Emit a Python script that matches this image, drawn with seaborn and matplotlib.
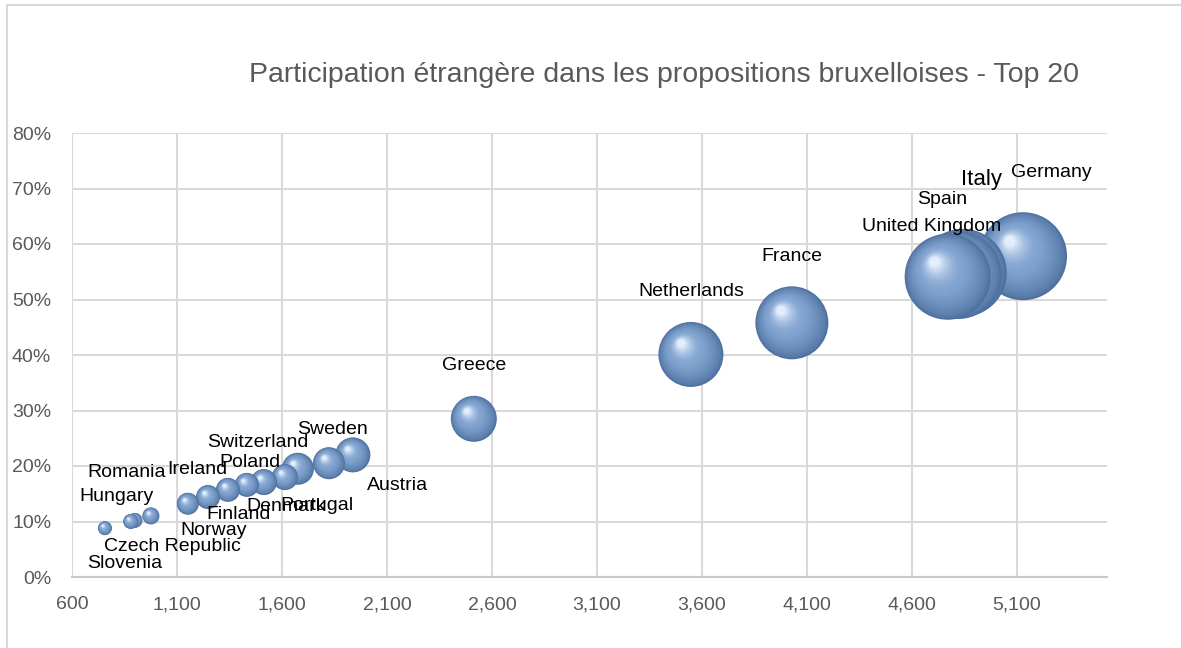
import numpy as np
import pandas as pd
import matplotlib
matplotlib.use("Agg")
import matplotlib.pyplot as plt
import matplotlib.colors as mcolors
import seaborn as sns
from matplotlib.path import Path
from matplotlib.ticker import FuncFormatter, PercentFormatter
from matplotlib.patches import Rectangle

# ---------------- data ----------------
countries = ["Germany", "Italy", "Spain", "United Kingdom", "France", "Netherlands",
             "Greece", "Sweden", "Austria", "Switzerland", "Portugal", "Poland",
             "Denmark", "Finland", "Norway", "Ireland", "Romania", "Hungary",
             "Czech Republic", "Slovenia"]
participations = [5130, 4843, 4819, 4771, 4029, 3548, 2514, 1938, 1824, 1676,
                  1614, 1514, 1433, 1343, 1248, 1152, 976, 900, 880, 757]
share = [0.578, 0.548, 0.544, 0.541, 0.458, 0.401, 0.285, 0.220, 0.205, 0.195,
         0.180, 0.171, 0.166, 0.157, 0.144, 0.132, 0.110, 0.102, 0.100, 0.088]
bubble_size = [1936, 1936, 1936, 1849, 1332, 1056, 529, 306, 256, 256,
               169, 169, 144, 144, 144, 121, 72, 56, 56, 49]

x_ticks = [600, 1100, 1600, 2100, 2600, 3100, 3600, 4100, 4600, 5100]
y_ticks = [0.0, 0.1, 0.2, 0.3, 0.4, 0.5, 0.6, 0.7, 0.8]
title = "Participation étrangère dans les propositions bruxelloises - Top 20"

# label offsets in pixels (dx right, dy down) from each bubble centre
label_offsets = {
    "Germany": (28, -84), "Italy": (19, -93), "Spain": (-16, -76),
    "United Kingdom": (-16, -50), "France": (0, -66), "Netherlands": (0, -63),
    "Greece": (0, -53), "Sweden": (-20, -25), "Austria": (69, 22),
    "Switzerland": (-40, -26), "Portugal": (32, 28), "Poland": (-14, -20),
    "Denmark": (39, 22), "Finland": (11, 25), "Norway": (6, 33),
    "Ireland": (9, -34), "Romania": (-24, -43), "Hungary": (-18, -24),
    "Czech Republic": (42, 25), "Slovenia": (20, 35),
}
label_fontsize = {"Italy": 16}

# ---------------- style ----------------
sns.set_theme(style="white")
plt.rcParams["font.family"] = ["Liberation Sans", "DejaVu Sans"]

df = pd.DataFrame({"country": countries, "x": participations,
                   "y": share, "size": bubble_size})

W, H = 1181, 648
fig = plt.figure(figsize=(W / 100, H / 100), dpi=100)
ax = fig.add_axes([72 / W, 1 - 577 / H, (1107 - 72) / W, (577 - 133) / H])
ax.set_axisbelow(True)

# chart-area border (partially visible like the reference)
fig.patches.append(Rectangle((7 / W, -0.2), 1.5, 1.2 - 5 / H, transform=fig.transFigure,
                             fill=False, edgecolor="#d9d9d9", linewidth=1.5, zorder=0))

# ---------------- spherical bubbles (layered radial gradient) ----------------
N_LAYERS = 26
edge_c = np.array(mcolors.to_rgb("#4f719f"))
body_c = np.array(mcolors.to_rgb("#7fa2cf"))
high_c = np.array(mcolors.to_rgb("#e2eefb"))


def layer_color(t):
    if t < 0.5:
        f = t / 0.5
        return tuple(edge_c + (body_c - edge_c) * f ** 0.7)
    f = (t - 0.5) / 0.5
    return tuple(body_c + (high_c - body_c) * f ** 1.8)


def layer_marker(t):
    r = 1 - 0.88 * t
    cx, cy = -0.30 * t, 0.34 * t
    anchor = Path([(-1, -1), (1, 1)], [Path.MOVETO, Path.MOVETO])
    return Path.make_compound_path(anchor, Path.circle((cx, cy), r))


layers = [(layer_marker(k / (N_LAYERS - 1)), layer_color(k / (N_LAYERS - 1)))
          for k in range(N_LAYERS)]

S_MAX = (2 * 44 * 0.72) ** 2          # marker area for the largest bubble
size_max = max(bubble_size)

for i in range(len(df)):
    row = df.iloc[[i]]
    for mk, col in layers:
        sns.scatterplot(data=row, x="x", y="y", size="size",
                        sizes=(0, S_MAX), size_norm=(0, size_max),
                        marker=mk, color=col, linewidth=0, edgecolor="none",
                        legend=False, ax=ax, zorder=3)

# ---------------- data labels ----------------
for name, xv, yv in zip(countries, participations, share):
    dx, dy = label_offsets[name]
    ax.annotate(name, (xv, yv), xytext=(dx, -dy), textcoords="offset pixels",
                ha="center", va="center", fontsize=label_fontsize.get(name, 14),
                color="black", zorder=5)

# ---------------- axes ----------------
ax.set_xlim(600, 5530)
ax.set_ylim(0, 0.8)
ax.set_xticks(x_ticks)
ax.set_yticks(y_ticks)
ax.xaxis.set_major_formatter(FuncFormatter(lambda v, p: f"{v:,.0f}"))
ax.yaxis.set_major_formatter(PercentFormatter(1.0, decimals=0))
ax.set_xlabel("")
ax.set_ylabel("")
ax.grid(True, color="#d9d9d9", linewidth=1.5)
for s in ["top", "right", "left"]:
    ax.spines[s].set_visible(False)
ax.spines["bottom"].set_color("#c8c8c8")
ax.spines["bottom"].set_linewidth(1.5)
ax.tick_params(axis="both", length=0, labelsize=14, colors="#595959")
ax.tick_params(axis="x", pad=14)
ax.tick_params(axis="y", pad=15)

fig.text(664 / W, 1 - 75 / H, title, ha="center", va="center",
         fontsize=20.5, color="#595959")

fig.savefig("out.png", dpi=100)
